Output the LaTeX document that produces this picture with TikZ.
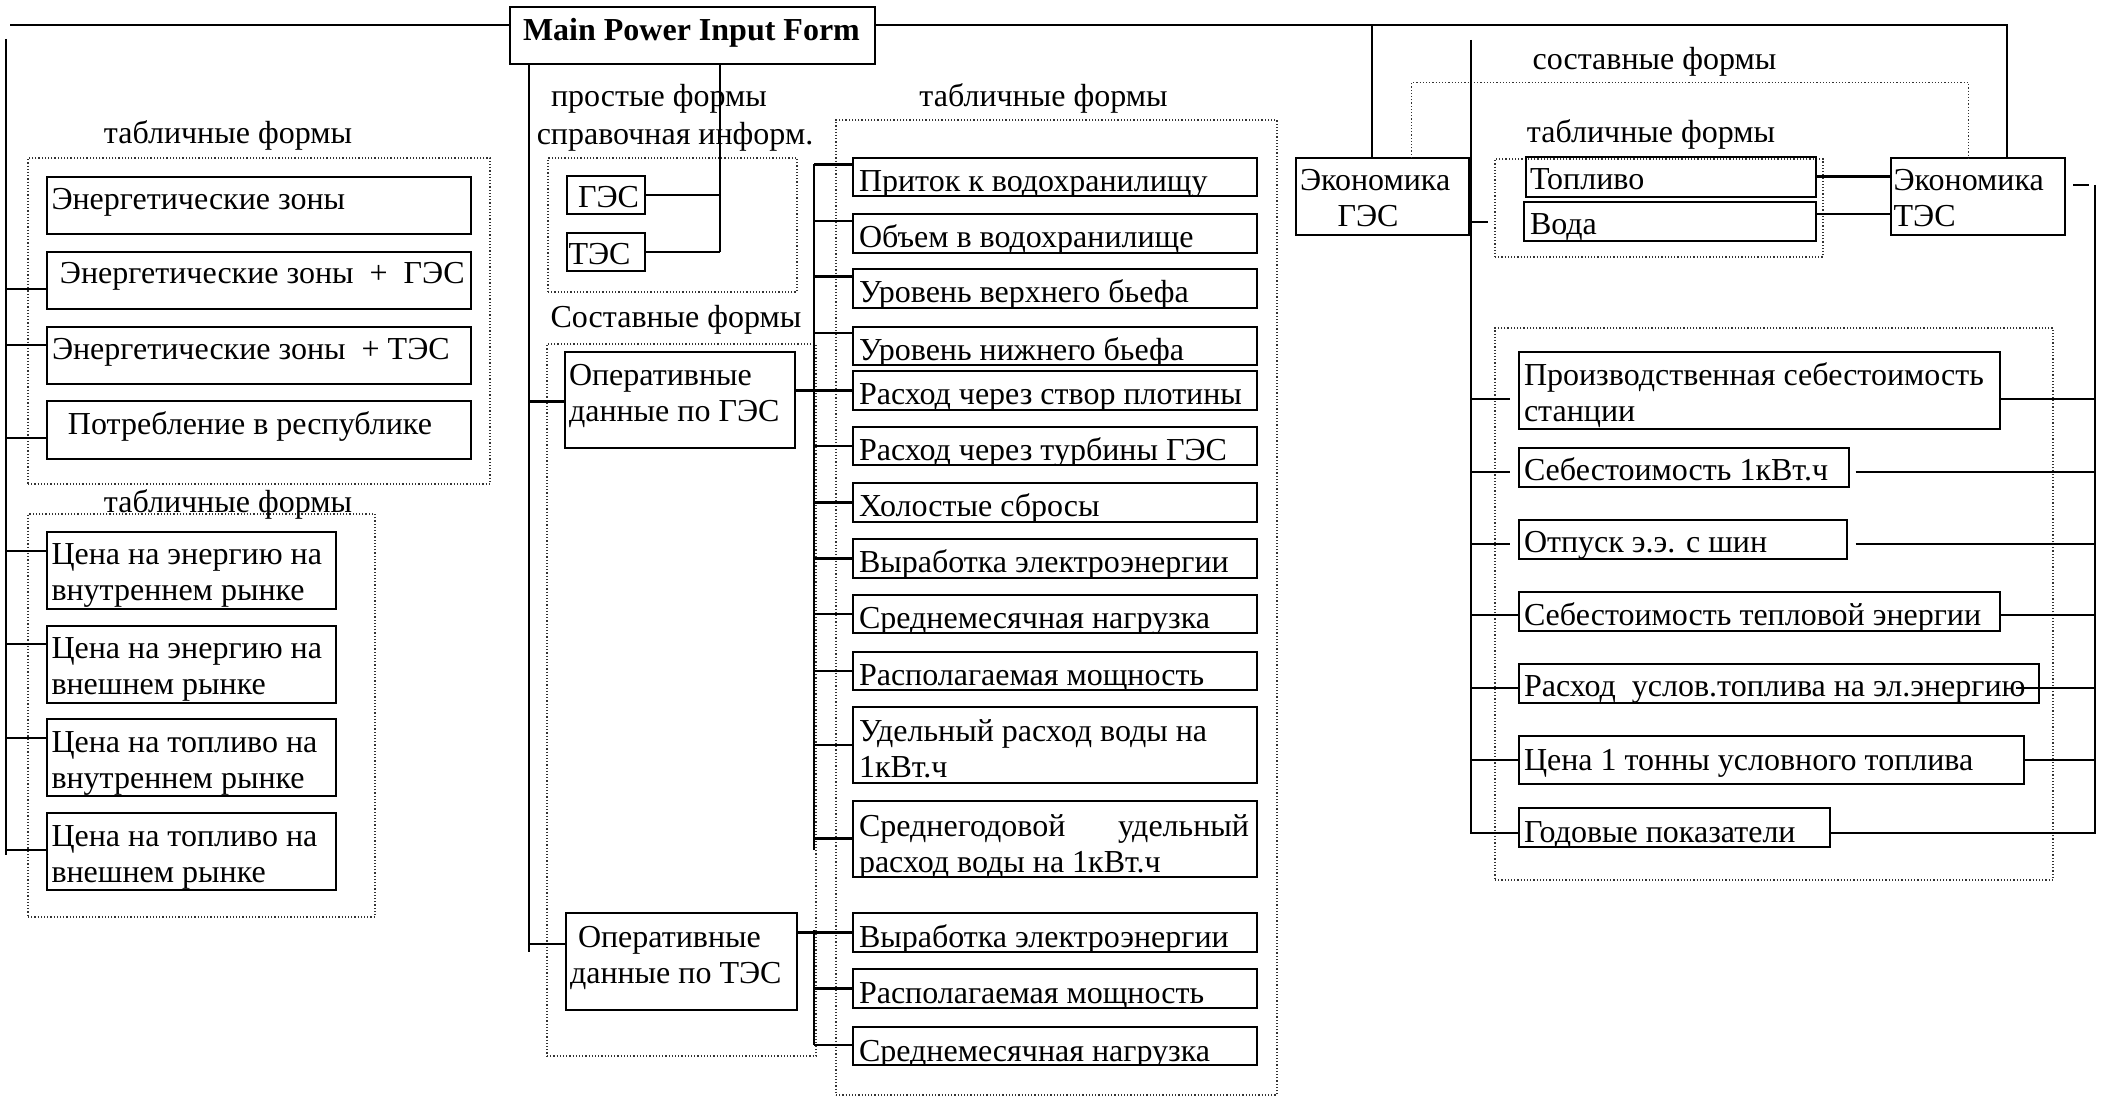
\documentclass[tikz,border=0pt]{standalone}
\usepackage{fontspec}
\setmainfont{Liberation Serif}
\usetikzlibrary{calc}
\tikzset{
 bxs/.style={draw, line width=1pt, inner sep=0pt, outer sep=0pt, anchor=north west},
 txt/.style={anchor=base west, inner sep=0pt, outer sep=0pt, minimum width=0pt, minimum height=0pt, draw=none, align=left, font=\fontsize{16}{18}\selectfont},
 lbl/.style={anchor=base, inner sep=0pt, outer sep=0pt, font=\fontsize{16}{18}\selectfont},
 dots/.style={draw=black!80, densely dotted, line width=0.6pt, inner sep=0pt, outer sep=0pt, anchor=north west},
 ln/.style={line width=1.2pt},
}
% #7 = baseline of the LAST text line, measured from the box top
\newcommand\bx[8]{\node[bxs, minimum width={(#4-#2)*0.5pt}, minimum height={(#5-#3)*0.5pt}, path picture={\node[txt] at ([xshift=#6*0.5pt, yshift=-#7*0.5pt]path picture bounding box.north west) {#8};}] (#1) at (#2,#3) {};}
\newcommand\dbx[5]{\node[dots, minimum width={(#4-#2)*0.5pt}, minimum height={(#5-#3)*0.5pt}] (#1) at (#2,#3) {};}
\begin{document}
\begin{tikzpicture}[x=0.5pt,y=-0.5pt]
\useasboundingbox (0,0) rectangle (2101,1096);
% ---------- main
\bx{main}{510}{7}{875}{64}{13}{34}{\bfseries Main Power Input Form}
% ---------- left groups
\node[lbl] (l1) at (228,144) {табличные формы};
\dbx{d1}{28}{158}{490}{484}
\bx{e1}{47}{177}{471}{234}{4.5}{33}{Энергетические зоны}
\bx{e2}{47}{252}{471}{309}{13}{32}{Энергетические зоны\ \ +\ \ ГЭС}
\bx{e3}{47}{327}{471}{384}{5}{33}{Энергетические зоны\ \ + ТЭС}
\bx{e4}{47}{401}{471}{459}{21}{34}{Потребление в республике}
\dbx{d2}{28}{514}{375}{917}
\node[lbl] (l2) at (228,513) {табличные формы};
\bx{c1}{47}{532}{336}{609}{4.5}{69}{Цена на энергию на\\внутреннем рынке}
\bx{c2}{47}{626}{336}{703}{4.5}{69}{Цена на энергию на\\внешнем рынке}
\bx{c3}{47}{719}{336}{796}{4.5}{69}{Цена на топливо на\\внутреннем рынке}
\bx{c4}{47}{813}{336}{890}{4.5}{69}{Цена на топливо на\\внешнем рынке}
% ---------- middle
\node[lbl] (l3) at (659,107) {простые формы};
\node[lbl] (l4) at (675,145) {справочная информ.};
\dbx{d3}{548}{158}{797}{292}
\bx{ges}{567}{176}{645}{214}{11}{32}{ГЭС}
\bx{tes}{567}{233}{645}{271}{1.5}{32}{ТЭС}
\node[lbl] (l5) at (676,328) {Составные формы};
\dbx{d4}{547}{344}{816}{1056}
\bx{og}{565}{352}{795}{448}{4}{70}{Оперативные\\данные по ГЭС}
\bx{ot}{566}{913}{797}{1010}{4}{70}{\hspace*{4pt}Оперативные\\данные по ТЭС}
\node[lbl] (l6) at (1043.5,107) {табличные формы};
\dbx{d5}{836}{120}{1277}{1095}
\bx{t1}{853}{158}{1257}{196}{6}{34}{Приток к водохранилищу}
\bx{t2}{853}{214}{1257}{253}{6}{34}{Объем в водохранилище}
\bx{t3}{853}{269}{1257}{308}{6}{34}{Уровень верхнего бьефа}
\bx{t4}{853}{327}{1257}{365}{6}{34}{Уровень нижнего бьефа}
\bx{t5}{853}{371}{1257}{410}{6}{34}{Расход через створ плотины}
\bx{t6}{853}{427}{1257}{465}{6}{34}{Расход через турбины ГЭС}
\bx{t7}{853}{483}{1257}{522}{6}{34}{Холостые сбросы}
\bx{t8}{853}{539}{1257}{578}{6}{34}{Выработка электроэнергии}
\bx{t9}{853}{595}{1257}{633}{6}{34}{Среднемесячная нагрузка}
\bx{t10}{853}{652}{1257}{690}{6}{34}{Располагаемая мощность}
\bx{t11}{853}{707}{1257}{783}{6}{70}{Удельный расход воды на\\1кВт.ч}
\bx{t12}{853}{801}{1257}{877}{6}{71}{\makebox[195pt][s]{Среднегодовой\hfill удельный}\\расход воды на 1кВт.ч}
\bx{t13}{853}{913}{1257}{952}{6}{34}{Выработка электроэнергии}
\bx{t14}{853}{969}{1257}{1008}{6}{34}{Располагаемая мощность}
\bx{t15}{853}{1027}{1257}{1065}{6}{34}{Среднемесячная нагрузка}
% ---------- right
\node[lbl] (l7) at (1654.5,70) {составные формы};
\bx{eg}{1296}{158}{1469}{235}{4}{69}{Экономика\\\hspace*{18.8pt}ГЭС}
\node[lbl] (l8) at (1651,143) {табличные формы};
\dbx{d6}{1495}{159}{1823}{257}
\bx{fuel}{1526}{157}{1816}{197}{4}{33}{Топливо}
\bx{water}{1524}{202}{1816}{241}{6}{33}{Вода}
\bx{et}{1891}{158}{2065}{235}{2.6}{69}{Экономика\\ТЭС}
\draw[dots] (eg.north -| 1411.7,0) |- (1968.5,82.7) -- (et.north -| 1968.5,0);
\dbx{d7}{1495}{328}{2053}{880}
\bx{r1}{1518.5}{352}{2000}{429}{5.5}{70}{Производственная себестоимость\\станции}
\bx{r2}{1518.5}{448}{1848.5}{487}{5.5}{33}{Себестоимость 1кВт.ч}
\bx{r3}{1518.5}{520}{1846.5}{559}{5.5}{33}{Отпуск э.э. с шин}
\bx{r4}{1518.5}{592}{2000}{631}{5.5}{33}{Себестоимость тепловой энергии}
\bx{r5}{1518.5}{664}{2038.5}{703}{5.5}{33}{Расход\ \ услов.топлива на эл.энергию}
\bx{r6}{1518.5}{736}{2024}{784}{5.5}{34}{Цена 1 тонны условного топлива}
\bx{r7}{1518.5}{808}{1830}{847}{5.5}{34}{Годовые показатели}
% ---------- connectors
\coordinate (tl) at (10,25);
\coordinate (lb) at (6,39);
\coordinate (lbe) at (6,855);
\coordinate (mA) at (529,952);
\coordinate (mB) at (720,252);
\coordinate (ttop) at (2007,25);
\coordinate (rb) at (1471,40);
\coordinate (rbe) at (1471,832.7);
\coordinate (rr) at (2095,185);
\coordinate (rre) at (2095,832.7);
\begin{scope}[ln]
\draw (tl) -- (tl -| main.west);
\draw (tl -| main.east) -- (ttop) -- (ttop |- et.north);
\draw (eg.north -| 1372,0) -- (1372,25);
% left bus
\draw (lb) -- (lbe);
\foreach \n/\d in {e2/37,e3/18,e4/37,c1/19,c2/18,c3/19,c4/37}
  \draw ($(\n.north west)+(0,\d)$) -- ($(\n.north west)+(-41,\d)$);
% middle buses
\draw (main.south -| mA) -- (mA);
\draw (og.west |- 0,401.7) -- (529,401.7);
\draw (ot.west |- 0,944) -- (529,944);
\draw (main.south -| mB) -- (mB);
\draw (ges.east) -- (ges.east -| mB);
\draw (tes.east) -- (tes.east -| mB);
\draw (814,164.3) -- (814,850);
\foreach \n/\d in {t1/6.6,t2/7,t3/7.7,t4/6}
  \draw ($(\n.north west)+(0,\d)$) -- ($(\n.north west)+(-39,\d)$);
\draw (og.east |- t5.west) -- (t5.west);
\foreach \n in {t6,t7,t8,t9,t10,t11}
  \draw (\n.west) -- (\n.west -| 814,0);
\draw (t12.west |- 0,838.3) -- (814,838.3);
\draw (ot.east |- t13.west) -- (t13.west);
\draw (814,930) -- (814,1045);
\draw (t14.west) -- (t14.west -| 814,0);
\draw (t15.west |- 0,1045) -- (814,1045);
% right side
\draw (eg.east |- 0,222) -- (1488,222);
\draw (fuel.east |- 0,176.7) -- (et.west |- 0,176.7);
\draw (water.east |- 0,214) -- (et.west |- 0,214);
\draw (2073,185) -- (2089,185);
\draw (rb) -- (rbe) -- (r7.west |- rbe);
\draw (rr) -- (rre) -- (r7.east |- rre);
\draw (rb |- 0,399.3) -- (1510,399.3);
\draw (rb |- 0,472.3) -- (1510,472.3);
\draw (rb |- 0,544) -- (1510,544);
\draw (rb |- 0,615) -- (r4.west |- 0,615);
\draw (rb |- 0,688) -- (r5.west |- 0,688);
\draw (rb |- 0,760) -- (r6.west |- 0,760);
\draw (r1.east |- 0,399.3) -- (rr |- 0,399.3);
\draw (1855.6,472.3) -- (rr |- 0,472.3);
\draw (1855.6,544) -- (rr |- 0,544);
\draw (r4.east |- 0,615) -- (rr |- 0,615);
\draw (2016,688) -- (rr |- 0,688);
\draw (r6.east |- 0,760) -- (rr |- 0,760);
\end{scope}
\end{tikzpicture}
\end{document}
